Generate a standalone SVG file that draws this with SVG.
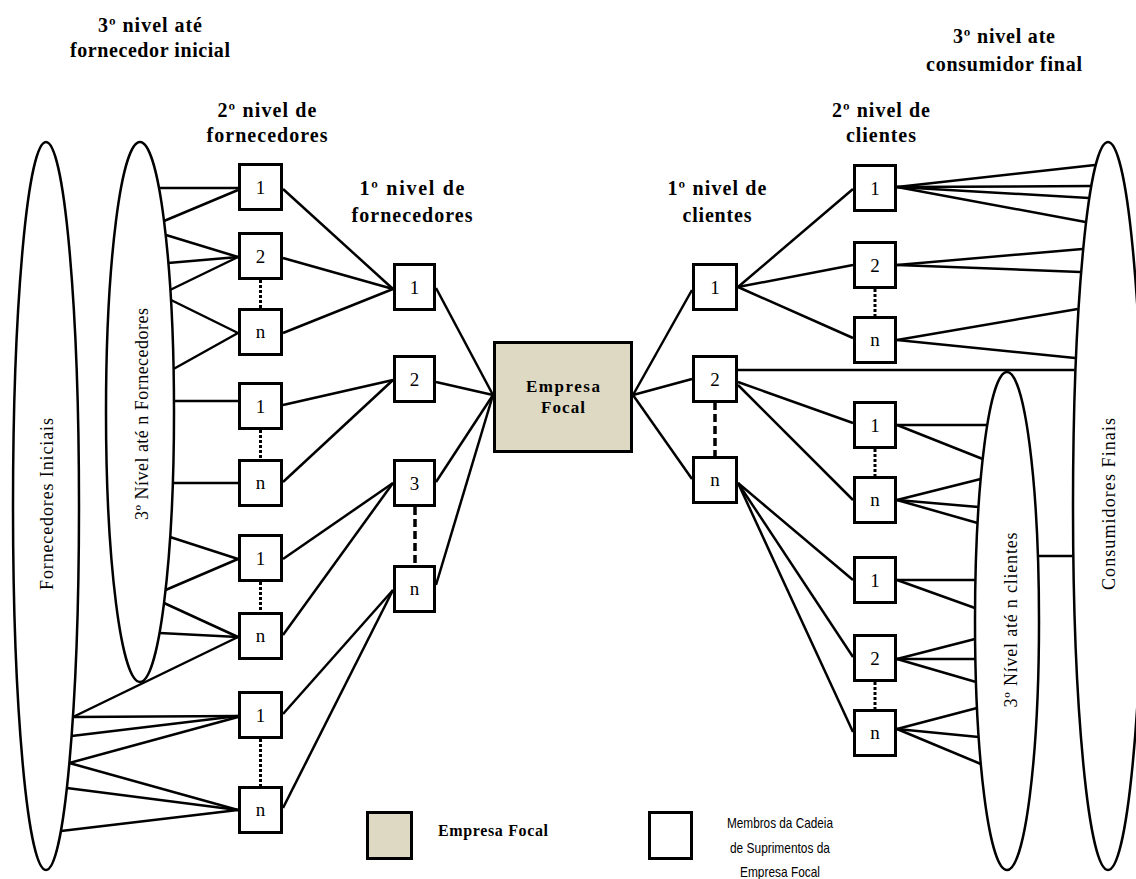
<svg xmlns="http://www.w3.org/2000/svg" width="1136" height="879" viewBox="0 0 1136 879">
<style>
.bg{fill:#ffffff}
.ell{fill:none;stroke:#000;stroke-width:2.5}
.box{fill:#fff;stroke:#000;stroke-width:3}
.focal{fill:#DDD9C3;stroke:#000;stroke-width:3}
.num{font-family:"Liberation Serif",serif;font-size:19px;fill:#000;text-anchor:middle}
.lbl{font-family:"Liberation Serif",serif;font-size:20px;font-weight:bold;fill:#000;text-anchor:middle}
.rot{font-family:"Liberation Serif",serif;font-size:18px;fill:#000;text-anchor:middle}
.ftxt{font-family:"Liberation Serif",serif;font-size:17px;font-weight:bold;fill:#000;text-anchor:middle}
.leg{font-family:"Liberation Sans Narrow","Liberation Sans",sans-serif;font-size:15px;fill:#000;text-anchor:middle}
.legb{font-family:"Liberation Serif",serif;font-size:16px;font-weight:bold;fill:#000}
#connectors line{stroke:#000;stroke-width:2.5}
#connectors .dot{stroke-width:3;stroke-dasharray:3 2}
#connectors .dash{stroke-width:3.5;stroke-dasharray:8 4}
</style>
<rect class="bg" x="0" y="0" width="1136" height="879"/>

<!-- level labels -->
<g id="labels">
<text class="lbl" x="150" y="32" textLength="104">3º nivel até</text>
<text class="lbl" x="150" y="57" textLength="160">fornecedor inicial</text>
<text class="lbl" x="267" y="117" textLength="99">2º nivel de</text>
<text class="lbl" x="267" y="142" textLength="121">fornecedores</text>
<text class="lbl" x="412" y="195" textLength="105">1º nivel de</text>
<text class="lbl" x="412" y="222" textLength="121">fornecedores</text>
<text class="lbl" x="717" y="195" textLength="99">1º nivel de</text>
<text class="lbl" x="717" y="222" textLength="69">clientes</text>
<text class="lbl" x="881" y="117" textLength="98">2º nivel de</text>
<text class="lbl" x="881" y="142" textLength="70">clientes</text>
<text class="lbl" x="1004" y="43" textLength="102">3º nivel ate</text>
<text class="lbl" x="1004" y="71" textLength="156">consumidor final</text>
</g>

<!-- ellipse groups -->
<g id="fornecedores-iniciais">
<ellipse class="ell" cx="46" cy="506" rx="33" ry="364"/>
<text class="rot" transform="translate(53,504) rotate(-90)" textLength="172">Fornecedores Iniciais</text>
</g>
<g id="nivel3-fornecedores">
<ellipse class="ell" cx="140" cy="412" rx="34" ry="270"/>
<text class="rot" transform="translate(148,414) rotate(-90)" textLength="212">3º Nível até n Fornecedores</text>
</g>
<g id="consumidores-finais">
<ellipse class="ell" cx="1108" cy="506" rx="35" ry="364"/>
<text class="rot" transform="translate(1115,504) rotate(-90)" textLength="172">Consumidores Finais</text>
</g>
<g id="nivel3-clientes">
<ellipse class="ell" cx="1007" cy="621" rx="32" ry="249"/>
<text class="rot" transform="translate(1017,620) rotate(-90)" textLength="175">3º Nível até n clientes</text>
</g>

<g id="connectors">
<!-- inner left ellipse to 2nd level suppliers -->
<line x1="159" y1="188" x2="238" y2="188"/>
<line x1="164" y1="221" x2="238" y2="190"/>
<line x1="166" y1="235" x2="238" y2="257"/>
<line x1="168" y1="263" x2="238" y2="257"/>
<line x1="170" y1="290" x2="238" y2="257"/>
<line x1="171" y1="300" x2="238" y2="333"/>
<line x1="173.5" y1="369" x2="238" y2="333"/>
<line x1="174" y1="401" x2="238" y2="401"/>
<line x1="173" y1="483" x2="238" y2="483"/>
<line x1="170" y1="537" x2="238" y2="559"/>
<line x1="165.6" y1="590" x2="238" y2="559"/>
<line x1="164" y1="603" x2="238" y2="637"/>
<line x1="159.5" y1="633" x2="238" y2="637"/>
<!-- big left ellipse to 2nd level -->
<line x1="73" y1="717" x2="238" y2="637"/>
<line x1="73" y1="717" x2="238" y2="716"/>
<line x1="71.6" y1="736" x2="238" y2="716"/>
<line x1="69.4" y1="763" x2="238" y2="717"/>
<line x1="69.4" y1="763" x2="238" y2="810"/>
<line x1="66.9" y1="788" x2="238" y2="810"/>
<line x1="61" y1="831" x2="238" y2="810"/>
<!-- 2nd level to 1st level suppliers -->
<line x1="283" y1="189" x2="393" y2="289"/>
<line x1="283" y1="258" x2="393" y2="289"/>
<line x1="283" y1="333" x2="393" y2="289"/>
<line x1="283" y1="405" x2="393" y2="380"/>
<line x1="283" y1="482" x2="393" y2="380"/>
<line x1="283" y1="559" x2="393" y2="483"/>
<line x1="283" y1="635" x2="393" y2="483"/>
<line x1="283" y1="714" x2="393" y2="590"/>
<line x1="283" y1="808" x2="393" y2="590"/>
<!-- 1st level suppliers to focal -->
<line x1="436" y1="288" x2="493" y2="395"/>
<line x1="436" y1="382" x2="493" y2="395"/>
<line x1="436" y1="482" x2="493" y2="395"/>
<line x1="436" y1="585" x2="493" y2="395"/>
<!-- focal to 1st level clients -->
<line x1="633" y1="395" x2="692" y2="290"/>
<line x1="633" y1="395" x2="692" y2="379"/>
<line x1="633" y1="395" x2="692" y2="479"/>
<!-- 1st level clients to 2nd level clients -->
<line x1="738" y1="287" x2="853" y2="189"/>
<line x1="738" y1="287" x2="853" y2="265"/>
<line x1="738" y1="287" x2="853" y2="338"/>
<line x1="738" y1="382" x2="853" y2="423"/>
<line x1="738" y1="385" x2="853" y2="500"/>
<line x1="738" y1="483" x2="853" y2="580"/>
<line x1="738" y1="483" x2="853" y2="657"/>
<line x1="738" y1="483" x2="853" y2="732"/>
<line x1="738" y1="370" x2="1074.6" y2="370"/>
<!-- 2nd level clients to consumidores finais -->
<line x1="897" y1="187" x2="1095" y2="165"/>
<line x1="897" y1="187" x2="1091" y2="186"/>
<line x1="897" y1="187" x2="1089" y2="198"/>
<line x1="897" y1="187" x2="1085.5" y2="222"/>
<line x1="897" y1="265" x2="1082.5" y2="249"/>
<line x1="897" y1="265" x2="1080.4" y2="272"/>
<line x1="897" y1="340" x2="1077.7" y2="309"/>
<line x1="897" y1="340" x2="1075.1" y2="358"/>
<!-- 2nd level clients to inner right ellipse -->
<line x1="897" y1="425" x2="987" y2="425"/>
<line x1="897" y1="425" x2="982.7" y2="459"/>
<line x1="897" y1="500" x2="980.7" y2="479"/>
<line x1="897" y1="500" x2="978.5" y2="507"/>
<line x1="897" y1="500" x2="977.6" y2="523"/>
<line x1="897" y1="580" x2="975.4" y2="580"/>
<line x1="897" y1="580" x2="975" y2="608"/>
<line x1="897" y1="659" x2="975" y2="639"/>
<line x1="897" y1="659" x2="975.2" y2="659"/>
<line x1="897" y1="659" x2="976" y2="682"/>
<line x1="897" y1="729" x2="977" y2="708"/>
<line x1="897" y1="729" x2="978.7" y2="737"/>
<line x1="897" y1="729" x2="980.8" y2="764"/>
<!-- inner right ellipse to consumidores finais -->
<line x1="1038" y1="556" x2="1072.4" y2="556"/>
<!-- dotted / dashed -->
<line class="dot" x1="260.5" y1="280" x2="260.5" y2="308"/>
<line class="dot" x1="260.5" y1="430" x2="260.5" y2="459"/>
<line class="dot" x1="260.5" y1="582" x2="260.5" y2="612"/>
<line class="dot" x1="260.5" y1="739" x2="260.5" y2="786"/>
<line class="dash" x1="415" y1="507" x2="415" y2="566"/>
<line class="dash" x1="715" y1="402" x2="715" y2="456"/>
<line class="dot" x1="875" y1="289" x2="875" y2="316"/>
<line class="dot" x1="875" y1="449" x2="875" y2="476"/>
<line class="dot" x1="875" y1="682" x2="875" y2="709"/>
</g>

<!-- 2nd level suppliers -->
<g id="s2-1a"><rect class="box" x="239.5" y="164.5" width="42" height="45"/><text class="num" x="260.5" y="194">1</text></g>
<g id="s2-2a"><rect class="box" x="239.5" y="233.5" width="42" height="45"/><text class="num" x="260.5" y="263">2</text></g>
<g id="s2-na"><rect class="box" x="239.5" y="309.5" width="42" height="45"/><text class="num" x="260.5" y="338">n</text></g>
<g id="s2-1b"><rect class="box" x="239.5" y="383.5" width="42" height="45"/><text class="num" x="260.5" y="413">1</text></g>
<g id="s2-nb"><rect class="box" x="239.5" y="460.5" width="42" height="45"/><text class="num" x="260.5" y="489">n</text></g>
<g id="s2-1c"><rect class="box" x="239.5" y="535.5" width="42" height="45"/><text class="num" x="260.5" y="565">1</text></g>
<g id="s2-nc"><rect class="box" x="239.5" y="613.5" width="42" height="45"/><text class="num" x="260.5" y="642">n</text></g>
<g id="s2-1d"><rect class="box" x="239.5" y="692.5" width="42" height="45"/><text class="num" x="260.5" y="722">1</text></g>
<g id="s2-nd"><rect class="box" x="239.5" y="787.5" width="42" height="45"/><text class="num" x="260.5" y="816">n</text></g>

<!-- 1st level suppliers -->
<g id="s1-1"><rect class="box" x="394.5" y="264.5" width="40" height="45"/><text class="num" x="414.5" y="294">1</text></g>
<g id="s1-2"><rect class="box" x="394.5" y="356.5" width="40" height="45"/><text class="num" x="414.5" y="386">2</text></g>
<g id="s1-3"><rect class="box" x="394.5" y="460.5" width="40" height="45"/><text class="num" x="414.5" y="490">3</text></g>
<g id="s1-n"><rect class="box" x="394.5" y="566.5" width="40" height="45"/><text class="num" x="414.5" y="595">n</text></g>

<!-- focal -->
<g id="empresa-focal"><rect class="focal" x="494.5" y="342.5" width="137" height="109"/>
<text class="ftxt" x="563" y="392" textLength="74">Empresa</text><text class="ftxt" x="563" y="413" textLength="44">Focal</text></g>

<!-- 1st level clients -->
<g id="c1-1"><rect class="box" x="693.5" y="264.5" width="43" height="45"/><text class="num" x="715" y="294">1</text></g>
<g id="c1-2"><rect class="box" x="693.5" y="356.5" width="43" height="45"/><text class="num" x="715" y="386">2</text></g>
<g id="c1-n"><rect class="box" x="693.5" y="457.5" width="43" height="45"/><text class="num" x="715" y="486">n</text></g>

<!-- 2nd level clients -->
<g id="c2-1a"><rect class="box" x="854.5" y="165.5" width="41" height="45"/><text class="num" x="875" y="195">1</text></g>
<g id="c2-2a"><rect class="box" x="854.5" y="242.5" width="41" height="45"/><text class="num" x="875" y="272">2</text></g>
<g id="c2-na"><rect class="box" x="854.5" y="317.5" width="41" height="45"/><text class="num" x="875" y="346">n</text></g>
<g id="c2-1b"><rect class="box" x="854.5" y="402.5" width="41" height="45"/><text class="num" x="875" y="432">1</text></g>
<g id="c2-nb"><rect class="box" x="854.5" y="477.5" width="41" height="45"/><text class="num" x="875" y="506">n</text></g>
<g id="c2-1c"><rect class="box" x="854.5" y="557.5" width="41" height="45"/><text class="num" x="875" y="587">1</text></g>
<g id="c2-2c"><rect class="box" x="854.5" y="635.5" width="41" height="45"/><text class="num" x="875" y="665">2</text></g>
<g id="c2-nc"><rect class="box" x="854.5" y="710.5" width="41" height="45"/><text class="num" x="875" y="739">n</text></g>

<!-- legend -->
<g id="legend-focal"><rect class="focal" x="367.5" y="812.5" width="44" height="46"/>
<text class="legb" x="438" y="836" textLength="110">Empresa Focal</text></g>
<g id="legend-membros"><rect class="box" x="649.5" y="812.5" width="42" height="46"/>
<text class="leg" x="780" y="828" textLength="106" lengthAdjust="spacingAndGlyphs">Membros da Cadeia</text>
<text class="leg" x="780" y="853" textLength="100" lengthAdjust="spacingAndGlyphs">de Suprimentos da</text>
<text class="leg" x="780" y="877" textLength="80" lengthAdjust="spacingAndGlyphs">Empresa Focal</text></g>
</svg>
